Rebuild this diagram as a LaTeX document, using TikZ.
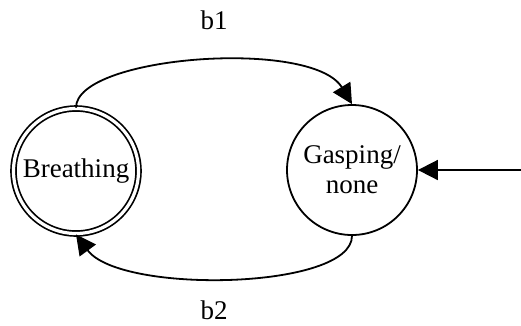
\documentclass[tikz,border=0pt]{standalone}
\usepackage{fontspec}
\setmainfont{Liberation Serif}
\usetikzlibrary{arrows.meta}
\begin{document}
\begin{tikzpicture}[x=1pt,y=-1pt,
  state/.style={circle,draw,line width=1.8pt,minimum size=130pt,inner sep=0pt,align=center,font=\fontsize{27}{30}\selectfont},
  accept/.style={state,double,double distance=3.2pt,line width=1.7pt,minimum size=125pt},
  conn/.style={line width=1.8pt,-{Triangle[length=20pt,width=20pt]}},
  lbl/.style={font=\fontsize{27}{30}\selectfont}]
\useasboundingbox (0,0) rectangle (521,325);
\node[accept] (br) at (76,171) {Breathing};
\node[state] (ga) at (352,170) {Gasping/\\none};
\coordinate (in) at (521,170);
\draw[conn] (br.north) .. controls +(0,-52) and +(-40,-66) .. (ga.north);
\draw[conn] (ga.south) .. controls +(0,54) and +(44,60) .. (br.south);
\draw[conn] (in) -- (ga.east);
\node[lbl] (b1) at (214,20) {b1};
\node[lbl] (b2) at (214,310) {b2};
\end{tikzpicture}
\end{document}
